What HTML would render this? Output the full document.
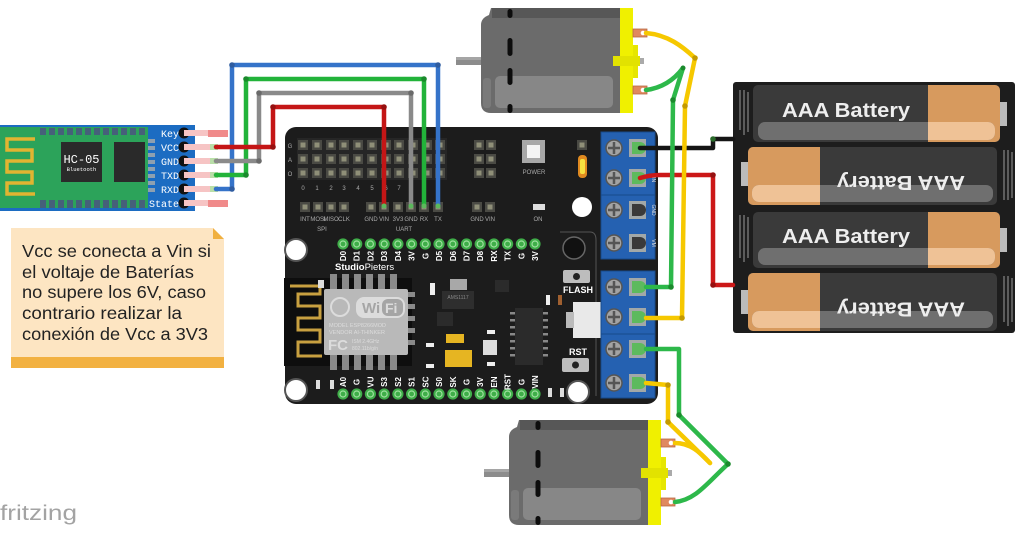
<!DOCTYPE html>
<html><head><meta charset="utf-8">
<style>
html,body{margin:0;padding:0;background:#fff;width:1024px;height:535px;overflow:hidden}
svg{display:block}
</style></head>
<body>
<svg width="1024" height="535" viewBox="0 0 1024 535" xmlns="http://www.w3.org/2000/svg" font-family="Liberation Sans, sans-serif">

<!-- ================= HC-05 ================= -->
<rect x="0" y="125" width="195" height="86" fill="#1c6cc2"/>
<rect x="0" y="127" width="148" height="81" fill="#2ca35a"/>
<!-- top pads -->
<g fill="#46607a">
<rect x="40" y="128" width="6" height="7"/><rect x="49" y="128" width="6" height="7"/><rect x="58" y="128" width="6" height="7"/><rect x="67" y="128" width="6" height="7"/><rect x="76" y="128" width="6" height="7"/><rect x="85" y="128" width="6" height="7"/><rect x="94" y="128" width="6" height="7"/><rect x="103" y="128" width="6" height="7"/><rect x="112" y="128" width="6" height="7"/><rect x="121" y="128" width="6" height="7"/><rect x="130" y="128" width="6" height="7"/><rect x="139" y="128" width="6" height="7"/>
<rect x="40" y="200" width="6" height="8"/><rect x="49" y="200" width="6" height="8"/><rect x="58" y="200" width="6" height="8"/><rect x="67" y="200" width="6" height="8"/><rect x="76" y="200" width="6" height="8"/><rect x="85" y="200" width="6" height="8"/><rect x="94" y="200" width="6" height="8"/><rect x="103" y="200" width="6" height="8"/><rect x="112" y="200" width="6" height="8"/><rect x="121" y="200" width="6" height="8"/><rect x="130" y="200" width="6" height="8"/><rect x="139" y="200" width="6" height="8"/>
</g>
<g fill="#8ea0b0">
<rect x="148" y="139" width="7" height="4"/><rect x="148" y="146" width="7" height="4"/><rect x="148" y="153" width="7" height="4"/><rect x="148" y="160" width="7" height="4"/><rect x="148" y="167" width="7" height="4"/><rect x="148" y="174" width="7" height="4"/><rect x="148" y="181" width="7" height="4"/><rect x="148" y="188" width="7" height="4"/>
</g>
<!-- antenna -->
<path d="M35,139 H7 V150 H32 V161 H7 V172 H32 V183 H7 V194 H35" fill="none" stroke="#e2b431" stroke-width="3.5"/>
<!-- chips -->
<rect x="61" y="142" width="41" height="40" fill="#2a2a2a"/>
<text x="81.5" y="163" font-family="Liberation Mono, monospace" font-size="12" fill="#fff" text-anchor="middle">HC-05</text>
<text x="81.5" y="171" font-family="Liberation Mono, monospace" font-size="5.5" fill="#fff" text-anchor="middle">Bluetooth</text>
<rect x="114" y="142" width="31" height="40" fill="#2a2a2a"/>
<!-- pin labels -->
<g font-family="Liberation Mono, monospace" font-size="10" fill="#fff" text-anchor="end">
<text x="179" y="137">Key</text>
<text x="179" y="151">VCC</text>
<text x="179" y="165">GND</text>
<text x="179" y="179">TXD</text>
<text x="179" y="193">RXD</text>
<text x="179" y="207">State</text>
</g>
<!-- pins -->
<g fill="#111">
<circle cx="184" cy="133" r="5.5"/><circle cx="184" cy="147" r="5.5"/><circle cx="184" cy="161" r="5.5"/><circle cx="184" cy="175" r="5.5"/><circle cx="184" cy="189" r="5.5"/><circle cx="184" cy="203" r="5.5"/>
</g>
<g stroke="#f6c4c4" stroke-width="6">
<line x1="184" y1="133" x2="228" y2="133"/>
<line x1="184" y1="147" x2="212" y2="147"/>
<line x1="184" y1="161" x2="212" y2="161"/>
<line x1="184" y1="175" x2="212" y2="175"/>
<line x1="184" y1="189" x2="212" y2="189"/>
<line x1="184" y1="203" x2="228" y2="203"/>
</g>
<rect x="208" y="130" width="20" height="7" fill="#f08a8a"/>
<rect x="208" y="200" width="20" height="7" fill="#f08a8a"/>
<g fill="#b9dea8">
<rect x="210" y="144" width="8" height="6"/><rect x="210" y="158" width="8" height="6"/><rect x="210" y="172" width="8" height="6"/><rect x="210" y="186" width="8" height="6"/>
</g>

<!-- ================= NOTE ================= -->
<rect x="11" y="228" width="213" height="140" fill="#fde5c2"/>
<polygon points="213,228 224,228 224,239" fill="#fff"/>
<polygon points="213,228 224,239 213,239" fill="#f0b040"/>
<rect x="11" y="357" width="213" height="11" fill="#f2b141"/>
<g font-size="17.5" fill="#222">
<text x="22" y="257" textLength="189" lengthAdjust="spacingAndGlyphs">Vcc se conecta a Vin si</text>
<text x="22" y="278" textLength="172" lengthAdjust="spacingAndGlyphs">el voltaje de Baterías</text>
<text x="22" y="298" textLength="184" lengthAdjust="spacingAndGlyphs">no supere los 6V, caso</text>
<text x="22" y="319" textLength="160" lengthAdjust="spacingAndGlyphs">contrario realizar la</text>
<text x="22" y="340" textLength="186" lengthAdjust="spacingAndGlyphs">conexión de Vcc a 3V3</text>
</g>

<!-- fritzing -->
<text x="0" y="520" font-size="21" fill="#a3a3a3" textLength="77" lengthAdjust="spacingAndGlyphs">fritzing</text>

<!-- ================= BOARD ================= -->
<rect x="285" y="127" width="373" height="277" rx="11" fill="#1c1c1c"/>
<!-- header grid -->
<rect x="297" y="138" width="150" height="42" fill="#262626"/>
<g fill="#4a4a44">
<rect x="298" y="140" width="10" height="10"/><rect x="312" y="140" width="10" height="10"/><rect x="326" y="140" width="10" height="10"/><rect x="339" y="140" width="10" height="10"/><rect x="353" y="140" width="10" height="10"/><rect x="367" y="140" width="10" height="10"/><rect x="381" y="140" width="10" height="10"/><rect x="394" y="140" width="10" height="10"/><rect x="408" y="140" width="10" height="10"/><rect x="422" y="140" width="10" height="10"/><rect x="435" y="140" width="10" height="10"/>
<rect x="298" y="154" width="10" height="10"/><rect x="312" y="154" width="10" height="10"/><rect x="326" y="154" width="10" height="10"/><rect x="339" y="154" width="10" height="10"/><rect x="353" y="154" width="10" height="10"/><rect x="367" y="154" width="10" height="10"/><rect x="381" y="154" width="10" height="10"/><rect x="394" y="154" width="10" height="10"/><rect x="408" y="154" width="10" height="10"/><rect x="422" y="154" width="10" height="10"/><rect x="435" y="154" width="10" height="10"/>
<rect x="298" y="168" width="10" height="10"/><rect x="312" y="168" width="10" height="10"/><rect x="326" y="168" width="10" height="10"/><rect x="339" y="168" width="10" height="10"/><rect x="353" y="168" width="10" height="10"/><rect x="367" y="168" width="10" height="10"/><rect x="381" y="168" width="10" height="10"/><rect x="394" y="168" width="10" height="10"/><rect x="408" y="168" width="10" height="10"/><rect x="422" y="168" width="10" height="10"/><rect x="435" y="168" width="10" height="10"/>
<rect x="474" y="140" width="10" height="10"/><rect x="486" y="140" width="10" height="10"/>
<rect x="474" y="154" width="10" height="10"/><rect x="486" y="154" width="10" height="10"/>
<rect x="474" y="168" width="10" height="10"/><rect x="486" y="168" width="10" height="10"/>
<rect x="577" y="140" width="10" height="10"/>
<rect x="300" y="202" width="10" height="10"/><rect x="313" y="202" width="10" height="10"/><rect x="326" y="202" width="10" height="10"/><rect x="339" y="202" width="10" height="10"/><rect x="366" y="202" width="10" height="10"/><rect x="379" y="202" width="10" height="10"/><rect x="393" y="202" width="10" height="10"/><rect x="406" y="202" width="10" height="10"/><rect x="419" y="202" width="10" height="10"/><rect x="433" y="202" width="10" height="10"/>
<rect x="472" y="202" width="10" height="10"/><rect x="485" y="202" width="10" height="10"/>
</g>
<g fill="#8f8f78">
<rect x="300.5" y="142.5" width="5" height="5"/><rect x="314.5" y="142.5" width="5" height="5"/><rect x="328.5" y="142.5" width="5" height="5"/><rect x="341.5" y="142.5" width="5" height="5"/><rect x="355.5" y="142.5" width="5" height="5"/><rect x="369.5" y="142.5" width="5" height="5"/><rect x="383.5" y="142.5" width="5" height="5"/><rect x="396.5" y="142.5" width="5" height="5"/><rect x="410.5" y="142.5" width="5" height="5"/><rect x="424.5" y="142.5" width="5" height="5"/><rect x="437.5" y="142.5" width="5" height="5"/>
<rect x="300.5" y="156.5" width="5" height="5"/><rect x="314.5" y="156.5" width="5" height="5"/><rect x="328.5" y="156.5" width="5" height="5"/><rect x="341.5" y="156.5" width="5" height="5"/><rect x="355.5" y="156.5" width="5" height="5"/><rect x="369.5" y="156.5" width="5" height="5"/><rect x="383.5" y="156.5" width="5" height="5"/><rect x="396.5" y="156.5" width="5" height="5"/><rect x="410.5" y="156.5" width="5" height="5"/><rect x="424.5" y="156.5" width="5" height="5"/><rect x="437.5" y="156.5" width="5" height="5"/>
<rect x="300.5" y="170.5" width="5" height="5"/><rect x="314.5" y="170.5" width="5" height="5"/><rect x="328.5" y="170.5" width="5" height="5"/><rect x="341.5" y="170.5" width="5" height="5"/><rect x="355.5" y="170.5" width="5" height="5"/><rect x="369.5" y="170.5" width="5" height="5"/><rect x="383.5" y="170.5" width="5" height="5"/><rect x="396.5" y="170.5" width="5" height="5"/><rect x="410.5" y="170.5" width="5" height="5"/><rect x="424.5" y="170.5" width="5" height="5"/><rect x="437.5" y="170.5" width="5" height="5"/>
<rect x="476.5" y="142.5" width="5" height="5"/><rect x="488.5" y="142.5" width="5" height="5"/><rect x="476.5" y="156.5" width="5" height="5"/><rect x="488.5" y="156.5" width="5" height="5"/><rect x="476.5" y="170.5" width="5" height="5"/><rect x="488.5" y="170.5" width="5" height="5"/>
<rect x="579.5" y="142.5" width="5" height="5"/>
<rect x="302.5" y="204.5" width="5" height="5"/><rect x="315.5" y="204.5" width="5" height="5"/><rect x="328.5" y="204.5" width="5" height="5"/><rect x="341.5" y="204.5" width="5" height="5"/><rect x="368.5" y="204.5" width="5" height="5"/><rect x="381.5" y="204.5" width="5" height="5"/><rect x="395.5" y="204.5" width="5" height="5"/><rect x="408.5" y="204.5" width="5" height="5"/><rect x="421.5" y="204.5" width="5" height="5"/><rect x="435.5" y="204.5" width="5" height="5"/>
<rect x="474.5" y="204.5" width="5" height="5"/><rect x="487.5" y="204.5" width="5" height="5"/>
</g>
<g font-size="6" fill="#aaa" text-anchor="middle">
<text x="290" y="148">G</text><text x="290" y="162">A</text><text x="290" y="176">O</text>
<text x="303" y="190">0</text><text x="317" y="190">1</text><text x="331" y="190">2</text><text x="344" y="190">3</text><text x="358" y="190">4</text><text x="372" y="190">5</text><text x="386" y="190">6</text><text x="399" y="190">7</text>
<text x="305" y="221">INT</text><text x="318" y="221">MOSI</text><text x="331" y="221">MISO</text><text x="344" y="221">CLK</text><text x="371" y="221">GND</text><text x="384" y="221">VIN</text><text x="398" y="221">3V3</text><text x="411" y="221">GND</text><text x="424" y="221">RX</text><text x="438" y="221">TX</text>
<text x="477" y="221">GND</text><text x="490" y="221">VIN</text>
<text x="322" y="231">SPI</text><text x="404" y="231">UART</text>
<text x="538" y="221">ON</text>
<text x="534" y="174">POWER</text>
</g>
<!-- power button & LED -->
<rect x="522" y="140" width="23" height="23" fill="#a8a8a8"/>
<rect x="527" y="145" width="13" height="13" fill="#f4f4f4"/>
<rect x="578" y="155" width="9" height="23" rx="4" fill="#e08a20"/>
<rect x="580" y="159" width="5" height="15" rx="2" fill="#f6e040"/>
<rect x="533" y="204" width="12" height="6" fill="#ddd"/>
<circle cx="582" cy="207" r="10" fill="#fff"/>

<!-- green pins top -->
<g fill="#3fae49">
<circle cx="343" cy="244" r="5.6"/><circle cx="356.7" cy="244" r="5.6"/><circle cx="370.4" cy="244" r="5.6"/><circle cx="384.2" cy="244" r="5.6"/><circle cx="397.9" cy="244" r="5.6"/><circle cx="411.6" cy="244" r="5.6"/><circle cx="425.3" cy="244" r="5.6"/><circle cx="439" cy="244" r="5.6"/><circle cx="452.8" cy="244" r="5.6"/><circle cx="466.5" cy="244" r="5.6"/><circle cx="480.2" cy="244" r="5.6"/><circle cx="493.9" cy="244" r="5.6"/><circle cx="507.6" cy="244" r="5.6"/><circle cx="521.4" cy="244" r="5.6"/><circle cx="535" cy="244" r="5.6"/>
<circle cx="343" cy="394" r="5.6"/><circle cx="356.7" cy="394" r="5.6"/><circle cx="370.4" cy="394" r="5.6"/><circle cx="384.2" cy="394" r="5.6"/><circle cx="397.9" cy="394" r="5.6"/><circle cx="411.6" cy="394" r="5.6"/><circle cx="425.3" cy="394" r="5.6"/><circle cx="439" cy="394" r="5.6"/><circle cx="452.8" cy="394" r="5.6"/><circle cx="466.5" cy="394" r="5.6"/><circle cx="480.2" cy="394" r="5.6"/><circle cx="493.9" cy="394" r="5.6"/><circle cx="507.6" cy="394" r="5.6"/><circle cx="521.4" cy="394" r="5.6"/><circle cx="535" cy="394" r="5.6"/>
</g>
<g fill="none" stroke="#9fe09f" stroke-width="1.2">
<circle cx="343" cy="244" r="3"/><circle cx="356.7" cy="244" r="3"/><circle cx="370.4" cy="244" r="3"/><circle cx="384.2" cy="244" r="3"/><circle cx="397.9" cy="244" r="3"/><circle cx="411.6" cy="244" r="3"/><circle cx="425.3" cy="244" r="3"/><circle cx="439" cy="244" r="3"/><circle cx="452.8" cy="244" r="3"/><circle cx="466.5" cy="244" r="3"/><circle cx="480.2" cy="244" r="3"/><circle cx="493.9" cy="244" r="3"/><circle cx="507.6" cy="244" r="3"/><circle cx="521.4" cy="244" r="3"/><circle cx="535" cy="244" r="3"/>
<circle cx="343" cy="394" r="3"/><circle cx="356.7" cy="394" r="3"/><circle cx="370.4" cy="394" r="3"/><circle cx="384.2" cy="394" r="3"/><circle cx="397.9" cy="394" r="3"/><circle cx="411.6" cy="394" r="3"/><circle cx="425.3" cy="394" r="3"/><circle cx="439" cy="394" r="3"/><circle cx="452.8" cy="394" r="3"/><circle cx="466.5" cy="394" r="3"/><circle cx="480.2" cy="394" r="3"/><circle cx="493.9" cy="394" r="3"/><circle cx="507.6" cy="394" r="3"/><circle cx="521.4" cy="394" r="3"/><circle cx="535" cy="394" r="3"/>
</g>
<g font-size="8" font-weight="bold" fill="#fff" text-anchor="middle">
<text transform="translate(343,256) rotate(-90)" dy="3">D0</text>
<text transform="translate(356.7,256) rotate(-90)" dy="3">D1</text>
<text transform="translate(370.4,256) rotate(-90)" dy="3">D2</text>
<text transform="translate(384.2,256) rotate(-90)" dy="3">D3</text>
<text transform="translate(397.9,256) rotate(-90)" dy="3">D4</text>
<text transform="translate(411.6,256) rotate(-90)" dy="3">3V</text>
<text transform="translate(425.3,256) rotate(-90)" dy="3">G</text>
<text transform="translate(439,256) rotate(-90)" dy="3">D5</text>
<text transform="translate(452.8,256) rotate(-90)" dy="3">D6</text>
<text transform="translate(466.5,256) rotate(-90)" dy="3">D7</text>
<text transform="translate(480.2,256) rotate(-90)" dy="3">D8</text>
<text transform="translate(493.9,256) rotate(-90)" dy="3">RX</text>
<text transform="translate(507.6,256) rotate(-90)" dy="3">TX</text>
<text transform="translate(521.4,256) rotate(-90)" dy="3">G</text>
<text transform="translate(535,256) rotate(-90)" dy="3">3V</text>
<text transform="translate(343,382) rotate(-90)" dy="3">A0</text>
<text transform="translate(356.7,382) rotate(-90)" dy="3">G</text>
<text transform="translate(370.4,382) rotate(-90)" dy="3">VU</text>
<text transform="translate(384.2,382) rotate(-90)" dy="3">S3</text>
<text transform="translate(397.9,382) rotate(-90)" dy="3">S2</text>
<text transform="translate(411.6,382) rotate(-90)" dy="3">S1</text>
<text transform="translate(425.3,382) rotate(-90)" dy="3">SC</text>
<text transform="translate(439,382) rotate(-90)" dy="3">S0</text>
<text transform="translate(452.8,382) rotate(-90)" dy="3">SK</text>
<text transform="translate(466.5,382) rotate(-90)" dy="3">G</text>
<text transform="translate(480.2,382) rotate(-90)" dy="3">3V</text>
<text transform="translate(493.9,382) rotate(-90)" dy="3">EN</text>
<text transform="translate(507.6,382) rotate(-90)" dy="3">RST</text>
<text transform="translate(521.4,382) rotate(-90)" dy="3">G</text>
<text transform="translate(535,382) rotate(-90)" dy="3">VIN</text>
</g>
<!-- mount holes -->
<circle cx="296" cy="250" r="11" fill="#fff" stroke="#555" stroke-width="2"/>
<circle cx="296" cy="390" r="11" fill="#fff" stroke="#555" stroke-width="2"/>
<circle cx="574" cy="248" r="11" fill="#111" stroke="#666" stroke-width="1.5"/>
<circle cx="578" cy="392" r="11" fill="#fff" stroke="#555" stroke-width="2"/>
<path d="M560,232 H590 Q596,232 596,240 V396" fill="none" stroke="#555" stroke-width="1"/>
<g fill="#ddd"><rect x="316" y="380" width="4" height="9"/><rect x="330" y="380" width="4" height="9"/><rect x="548" y="388" width="4" height="9"/><rect x="560" y="388" width="4" height="9"/></g>

<text x="335" y="270" font-size="9.5" font-weight="bold" fill="#fff">Studio<tspan font-weight="normal">Pieters</tspan></text>

<!-- ESP module -->
<rect x="284" y="278" width="128" height="88" fill="#0e0e0e"/>
<path d="M290,286 H320 V294 H298 V306 H320 V318 H298 V330 H320 V342 H298 V356 H322" fill="none" stroke="#c8a040" stroke-width="3"/>
<g fill="#8a8a8a">
<rect x="330" y="274" width="7" height="16"/><rect x="342" y="274" width="7" height="16"/><rect x="354" y="274" width="7" height="16"/><rect x="366" y="274" width="7" height="16"/><rect x="378" y="274" width="7" height="16"/><rect x="390" y="274" width="7" height="16"/>
<rect x="330" y="354" width="7" height="16"/><rect x="342" y="354" width="7" height="16"/><rect x="354" y="354" width="7" height="16"/><rect x="366" y="354" width="7" height="16"/><rect x="378" y="354" width="7" height="16"/><rect x="390" y="354" width="7" height="16"/>
<rect x="407" y="292" width="8" height="5"/><rect x="407" y="304" width="8" height="5"/><rect x="407" y="316" width="8" height="5"/><rect x="407" y="328" width="8" height="5"/><rect x="407" y="340" width="8" height="5"/>
</g>
<rect x="318" y="280" width="6" height="8" fill="#ddd"/>
<rect x="324" y="289" width="84" height="66" rx="2" fill="#b9b9b9"/>
<rect x="356" y="297" width="49" height="21" rx="8" fill="#dcdcdc"/>
<text x="362" y="313" font-size="15" font-weight="bold" fill="#a5a5a5">Wi</text>
<rect x="382" y="299" width="21" height="17" rx="6" fill="#a5a5a5"/>
<text x="385" y="313" font-size="14" font-weight="bold" fill="#dcdcdc">Fi</text>
<circle cx="340" cy="307" r="9" fill="none" stroke="#dcdcdc" stroke-width="2"/>
<text x="329" y="327" font-size="5.5" fill="#dcdcdc">MODEL   ESP8266MOD</text>
<text x="329" y="334" font-size="5.5" fill="#dcdcdc">VENDOR  AI-THINKER</text>
<text x="328" y="350" font-size="15" font-weight="bold" fill="#dcdcdc">FC</text>
<text x="352" y="343" font-size="5" fill="#dcdcdc">ISM 2.4GHz</text>
<text x="352" y="350" font-size="5" fill="#dcdcdc">802.11b/g/n</text>

<!-- other components -->
<rect x="450" y="279" width="17" height="11" fill="#a8a8a8"/>
<rect x="442" y="291" width="32" height="18" fill="#2e2e2e"/>
<text x="458" y="299" font-size="5" fill="#888" text-anchor="middle">AMS1117</text>
<rect x="430" y="283" width="5" height="12" fill="#eee"/>
<rect x="437" y="312" width="16" height="14" fill="#2b2b2b"/>
<rect x="495" y="280" width="14" height="12" fill="#2b2b2b"/>
<rect x="515" y="308" width="28" height="57" fill="#2b2b2b"/>
<g fill="#888"><rect x="510" y="312" width="5" height="2.5"/><rect x="510" y="319" width="5" height="2.5"/><rect x="510" y="326" width="5" height="2.5"/><rect x="510" y="333" width="5" height="2.5"/><rect x="510" y="340" width="5" height="2.5"/><rect x="510" y="347" width="5" height="2.5"/><rect x="510" y="354" width="5" height="2.5"/><rect x="543" y="312" width="5" height="2.5"/><rect x="543" y="319" width="5" height="2.5"/><rect x="543" y="326" width="5" height="2.5"/><rect x="543" y="333" width="5" height="2.5"/><rect x="543" y="340" width="5" height="2.5"/><rect x="543" y="347" width="5" height="2.5"/><rect x="543" y="354" width="5" height="2.5"/></g>
<rect x="446" y="334" width="18" height="9" fill="#e6b522"/>
<rect x="445" y="350" width="27" height="17" fill="#e6b522"/>
<rect x="483" y="340" width="14" height="15" fill="#ddd"/>
<rect x="426" y="343" width="8" height="4" fill="#eee"/><rect x="426" y="364" width="8" height="4" fill="#eee"/>
<rect x="487" y="330" width="8" height="4" fill="#eee"/><rect x="487" y="362" width="8" height="4" fill="#eee"/>
<rect x="546" y="295" width="4" height="10" fill="#eee"/><rect x="558" y="295" width="4" height="10" fill="#a06030"/>
<rect x="573" y="302" width="32" height="36" fill="#e9e9e9"/>
<rect x="566" y="312" width="8" height="16" fill="#bbb"/>
<rect x="563" y="270" width="27" height="13" rx="2" fill="#bdbdbd"/><circle cx="576.5" cy="276.5" r="3.5" fill="#222"/>
<text x="578" y="293" font-size="9" font-weight="bold" fill="#fff" text-anchor="middle">FLASH</text>
<text x="578" y="355" font-size="9" font-weight="bold" fill="#fff" text-anchor="middle">RST</text>
<rect x="562" y="358" width="27" height="14" rx="2" fill="#bdbdbd"/><circle cx="575.5" cy="365" r="3.5" fill="#222"/>

<!-- terminal blocks -->
<g stroke="#184a8c" stroke-width="1">
<rect x="601" y="132" width="54" height="63" fill="#2561b1"/>
<rect x="601" y="195" width="54" height="64" fill="#2561b1"/>
<rect x="601" y="271" width="54" height="63" fill="#2561b1"/>
<rect x="601" y="334" width="54" height="64" fill="#2561b1"/>
</g>
<g fill="#a3a3a3" stroke="#555" stroke-width="1.5">
<circle cx="614" cy="148" r="8"/><circle cx="614" cy="178" r="8"/><circle cx="614" cy="210" r="8"/><circle cx="614" cy="243" r="8"/>
<circle cx="614" cy="287" r="8"/><circle cx="614" cy="317" r="8"/><circle cx="614" cy="349" r="8"/><circle cx="614" cy="383" r="8"/>
</g>
<g stroke="#555" stroke-width="2.5">
<path d="M608,148 H620 M614,142 V154"/><path d="M608,178 H620 M614,172 V184"/><path d="M608,210 H620 M614,204 V216"/><path d="M608,243 H620 M614,237 V249"/>
<path d="M608,287 H620 M614,281 V293"/><path d="M608,317 H620 M614,311 V323"/><path d="M608,349 H620 M614,343 V355"/><path d="M608,383 H620 M614,377 V389"/>
</g>
<g fill="#a2a8a8">
<rect x="629" y="139" width="17" height="18"/><rect x="629" y="169" width="17" height="18"/><rect x="629" y="201" width="17" height="18"/><rect x="629" y="234" width="17" height="18"/>
<rect x="629" y="278" width="17" height="18"/><rect x="629" y="308" width="17" height="18"/><rect x="629" y="340" width="17" height="18"/><rect x="629" y="374" width="17" height="18"/>
</g>
<g fill="#5dba5d">
<path d="M632,142 H640 A6,6 0 0 1 640,154 H632 Z"/><path d="M632,172 H640 A6,6 0 0 1 640,184 H632 Z"/>
<path d="M632,281 H640 A6,6 0 0 1 640,293 H632 Z"/><path d="M632,311 H640 A6,6 0 0 1 640,323 H632 Z"/>
<path d="M632,343 H640 A6,6 0 0 1 640,355 H632 Z"/><path d="M632,377 H640 A6,6 0 0 1 640,389 H632 Z"/>
</g>
<g fill="#3a3a3a">
<path d="M632,204 H640 A6,6 0 0 1 640,216 H632 Z"/><path d="M632,237 H640 A6,6 0 0 1 640,249 H632 Z"/>
</g>
<g font-size="5" fill="#ddd" text-anchor="middle">
<text transform="translate(652,210) rotate(90)">GND</text>
<text transform="translate(652,243) rotate(90)">VM</text>
<text transform="translate(652,178) rotate(90)">VIN</text>
</g>

<!-- ================= BATTERY PACK ================= -->
<rect x="733" y="82" width="282" height="251" rx="3" fill="#1d1d1d"/>
<g fill="none" stroke="#9a9a9a" stroke-width="1">
<path d="M740,90 V130 M744,90 V135 M748,92 V132"/>
<path d="M1004,150 V200 M1008,150 V200 M1012,152 V198"/>
<path d="M740,215 V258 M744,215 V262 M748,217 V258"/>
<path d="M1004,276 V322 M1008,276 V326 M1012,278 V322"/>
</g>
<!-- row 1 -->
<rect x="753" y="85" width="247" height="57" rx="5" fill="#3a3a3a"/>
<rect x="928" y="85" width="72" height="57" rx="5" fill="#d79a5e"/>
<rect x="928" y="85" width="10" height="57" fill="#d79a5e"/>
<rect x="758" y="122" width="237" height="18" rx="7" fill="#6f6f6f"/>
<rect x="928" y="122" width="67" height="18" rx="7" fill="#efc296"/>
<rect x="928" y="122" width="10" height="18" fill="#efc296"/>
<rect x="1000" y="102" width="7" height="24" fill="#bbb"/>
<text x="782" y="117" font-size="20" font-weight="bold" fill="#eee" textLength="128" lengthAdjust="spacingAndGlyphs">AAA Battery</text>
<!-- row 2 -->
<rect x="748" y="147" width="249" height="58" rx="5" fill="#3a3a3a"/>
<rect x="748" y="147" width="72" height="58" rx="5" fill="#d79a5e"/>
<rect x="812" y="147" width="8" height="58" fill="#d79a5e"/>
<rect x="752" y="185" width="241" height="17" rx="7" fill="#6f6f6f"/>
<rect x="752" y="185" width="68" height="17" rx="7" fill="#efc296"/>
<rect x="812" y="185" width="8" height="17" fill="#efc296"/>
<rect x="741" y="162" width="7" height="24" fill="#bbb"/>
<text x="837" y="191" font-size="20" font-weight="bold" fill="#eee" textLength="128" lengthAdjust="spacingAndGlyphs" transform="rotate(180 901 183.5)">AAA Battery</text>
<!-- row 3 -->
<rect x="753" y="212" width="247" height="56" rx="5" fill="#3a3a3a"/>
<rect x="928" y="212" width="72" height="56" rx="5" fill="#d79a5e"/>
<rect x="928" y="212" width="10" height="56" fill="#d79a5e"/>
<rect x="758" y="248" width="237" height="17" rx="7" fill="#6f6f6f"/>
<rect x="928" y="248" width="67" height="17" rx="7" fill="#efc296"/>
<rect x="928" y="248" width="10" height="17" fill="#efc296"/>
<rect x="1000" y="228" width="7" height="24" fill="#bbb"/>
<text x="782" y="243" font-size="20" font-weight="bold" fill="#eee" textLength="128" lengthAdjust="spacingAndGlyphs">AAA Battery</text>
<!-- row 4 -->
<rect x="748" y="273" width="249" height="58" rx="5" fill="#3a3a3a"/>
<rect x="748" y="273" width="72" height="58" rx="5" fill="#d79a5e"/>
<rect x="812" y="273" width="8" height="58" fill="#d79a5e"/>
<rect x="752" y="311" width="241" height="17" rx="7" fill="#6f6f6f"/>
<rect x="752" y="311" width="68" height="17" rx="7" fill="#efc296"/>
<rect x="812" y="311" width="8" height="17" fill="#efc296"/>
<rect x="741" y="290" width="7" height="24" fill="#bbb"/>
<text x="837" y="317.5" font-size="20" font-weight="bold" fill="#eee" textLength="128" lengthAdjust="spacingAndGlyphs" transform="rotate(180 901 310)">AAA Battery</text>

<!-- ================= MOTORS ================= -->
<g id="motor1">
<rect x="456" y="57" width="26" height="8" fill="#8c8c8c"/>
<rect x="456" y="57" width="26" height="3" fill="#a5a5a5"/>
<path d="M491,8 H620 V113 H491 Q481,113 481,103 V25 Q481,18 489,15 Z" fill="#6b6b6b"/>
<rect x="492" y="8" width="128" height="10" fill="#575757"/>
<rect x="495" y="76" width="118" height="32" rx="5" fill="#878787"/>
<rect x="483" y="78" width="8" height="30" rx="3" fill="#7a7a7a"/>
<g fill="#0d0d0d">
<rect x="507.5" y="9" width="5" height="9" rx="2.5"/><rect x="507.5" y="38" width="5" height="18" rx="2.5"/><rect x="507.5" y="68" width="5" height="17" rx="2.5"/><rect x="507.5" y="104" width="5" height="9" rx="2.5"/>
</g>
<rect x="620" y="8" width="13" height="105" fill="#f0f000"/>
<rect x="633" y="45" width="5" height="33" fill="#e6e600"/>
<rect x="613" y="56" width="27" height="10" fill="#e2e200"/>
<rect x="640" y="58" width="4" height="6" fill="#aaa"/>
<rect x="633" y="29" width="14" height="8" fill="#e0895f" stroke="#b96a44" stroke-width="0.8"/>
<circle cx="643" cy="33" r="2.3" fill="#fff"/>
<rect x="633" y="86" width="14" height="8" fill="#e0895f" stroke="#b96a44" stroke-width="0.8"/>
<circle cx="643" cy="90" r="2.3" fill="#fff"/>
</g>
<g transform="translate(28,412)">
<rect x="456" y="57" width="26" height="8" fill="#8c8c8c"/>
<rect x="456" y="57" width="26" height="3" fill="#a5a5a5"/>
<path d="M491,8 H620 V113 H491 Q481,113 481,103 V25 Q481,18 489,15 Z" fill="#6b6b6b"/>
<rect x="492" y="8" width="128" height="10" fill="#575757"/>
<rect x="495" y="76" width="118" height="32" rx="5" fill="#878787"/>
<rect x="483" y="78" width="8" height="30" rx="3" fill="#7a7a7a"/>
<g fill="#0d0d0d">
<rect x="507.5" y="9" width="5" height="9" rx="2.5"/><rect x="507.5" y="38" width="5" height="18" rx="2.5"/><rect x="507.5" y="68" width="5" height="17" rx="2.5"/><rect x="507.5" y="104" width="5" height="9" rx="2.5"/>
</g>
<rect x="620" y="8" width="13" height="105" fill="#f0f000"/>
<rect x="633" y="45" width="5" height="33" fill="#e6e600"/>
<rect x="613" y="56" width="27" height="10" fill="#e2e200"/>
<rect x="640" y="58" width="4" height="6" fill="#aaa"/>
<rect x="633" y="27" width="14" height="8" fill="#e0895f" stroke="#b96a44" stroke-width="0.8"/>
<circle cx="643" cy="31" r="2.3" fill="#fff"/>
<rect x="633" y="86" width="14" height="8" fill="#e0895f" stroke="#b96a44" stroke-width="0.8"/>
<circle cx="643" cy="90" r="2.3" fill="#fff"/>
</g>

<!-- ================= WIRES ================= -->
<g fill="none" stroke-width="4.5" stroke-linejoin="round" stroke-linecap="round">
<!-- HC-05 to board -->
<path d="M216,189 H232 V65 H438 V206" stroke="#3573c9"/>
<path d="M216,175 H246 V79 H424 V206" stroke="#22b33a"/>
<path d="M216,161 H259 V93 H411 V206" stroke="#8a8a8a"/>
<path d="M216,147 H273 V107 H384 V206" stroke="#c41616"/>
<!-- battery -->
<path d="M640,148 H713 V139 H733" stroke="#151515"/>
<path d="M640,178 Q650,175 660,175 H713 V285 H733" stroke="#cc1818"/>
<!-- top motor -->
<path d="M646,90 C662,88 674,80 683,68 L673,100 L671,287 H646" stroke="#2db84a"/>
<path d="M646,33 C668,35 682,46 695,58 L685,106 L682,318 H646" stroke="#f6c800"/>
<!-- bottom motor -->
<path d="M646,349 H679 V415 L728,464 C708,482 696,500 675,502" stroke="#2db84a"/>
<path d="M646,383 L668,385 V422 L710,463" stroke="#f6c800"/>
<path d="M675,443 C690,443 700,452 710,463" stroke="#f6c800"/>
</g>
<!-- wire end marks & nodes -->
<g fill="#2f5ca0"><circle cx="232" cy="65" r="2.8"/><circle cx="438" cy="65" r="2.8"/><circle cx="232" cy="189" r="2.8"/></g>
<g fill="#1a8a2c"><circle cx="246" cy="79" r="2.8"/><circle cx="424" cy="79" r="2.8"/><circle cx="246" cy="175" r="2.8"/><circle cx="673" cy="100" r="2.8"/><circle cx="671" cy="287" r="2.8"/><circle cx="679" cy="415" r="2.8"/><circle cx="728" cy="464" r="2.8"/><circle cx="683" cy="68" r="2.5"/></g>
<g fill="#6a6a6a"><circle cx="259" cy="93" r="2.8"/><circle cx="411" cy="93" r="2.8"/><circle cx="259" cy="161" r="2.8"/></g>
<g fill="#961010"><circle cx="273" cy="107" r="2.8"/><circle cx="384" cy="107" r="2.8"/><circle cx="273" cy="147" r="2.8"/><circle cx="713" cy="175" r="2.8"/><circle cx="713" cy="285" r="2.8"/></g>
<g fill="#c49a00"><circle cx="695" cy="58" r="2.8"/><circle cx="685" cy="106" r="2.8"/><circle cx="682" cy="318" r="2.8"/><circle cx="668" cy="385" r="2.8"/><circle cx="668" cy="422" r="2.8"/></g>
<circle cx="713" cy="139" r="2.8" fill="#2a6a2a"/>
<g fill="#5cb85c"><circle cx="384" cy="206" r="2.5"/><circle cx="411" cy="206" r="2.5"/><circle cx="424" cy="206" r="2.5"/><circle cx="438" cy="206" r="2.5"/></g>
</svg>
</body></html>
